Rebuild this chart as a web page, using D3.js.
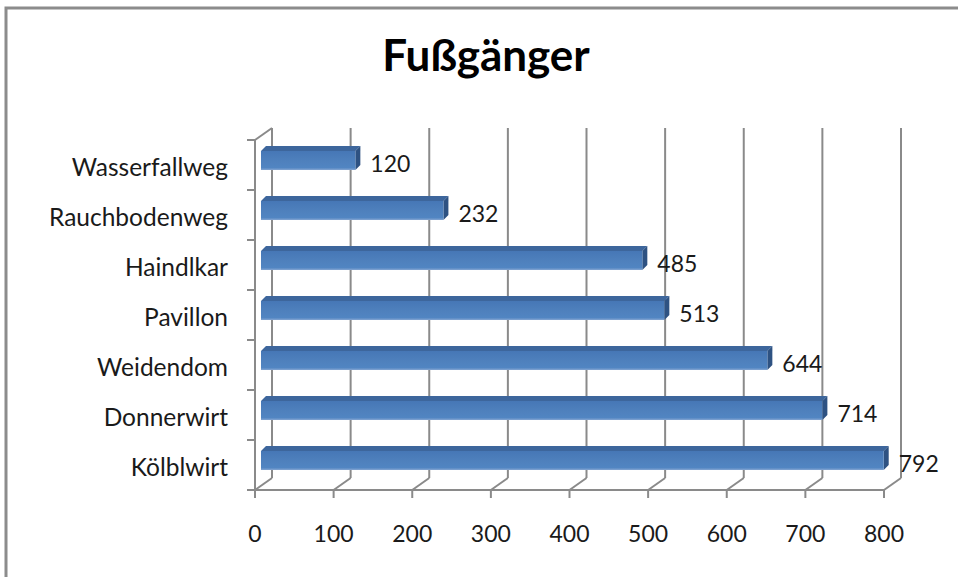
<!DOCTYPE html>
<html>
<head>
<meta charset="utf-8">
<script src="https://cdn.jsdelivr.net/npm/d3@7"></script>
<style>
  body { margin: 0; background: #fff; }
  svg { display: block; }
  text { font-family: Lato, "Open Sans", sans-serif; fill: #000; }
</style>
</head>
<body>
<div id="chart"></div>
<script>
// chart data (top to bottom as shown)
const categories = ["Wasserfallweg", "Rauchbodenweg", "Haindlkar", "Pavillon", "Weidendom", "Donnerwirt", "Kölblwirt"];
const values = [120, 232, 485, 513, 644, 714, 792];
const xTicks = [0, 100, 200, 300, 400, 500, 600, 700, 800];
const title = "Fußgänger";

const width = 958, height = 577;
const depth = { dx: 17, dy: -12 };   // floor / wall depth
const barDepth = { dx: 5, dy: -5 };  // 3d depth of one bar
const gridColor = "#8a8a8a";

const svg = d3.select("#chart").append("svg")
  .attr("width", width)
  .attr("height", height);

// outer frame of the chart area
svg.append("rect")
  .attr("x", 6).attr("y", 8)
  .attr("width", width + 20).attr("height", height + 20)
  .attr("fill", "#fff")
  .attr("stroke", "#8c8c8c")
  .attr("stroke-width", 3);

svg.append("text")
  .attr("x", 486).attr("y", 71)
  .attr("text-anchor", "middle")
  .style("font-weight", "bold")
  .style("font-size", "44px")
  .text(title);

// scales
const x = d3.scaleLinear().domain([0, 800]).range([255, 884]);
const xBar = d3.scaleLinear().domain([0, 800]).range([261, 890]);
const y = d3.scaleBand().domain(categories).range([140, 490]).paddingInner(0);

const grid = svg.append("g")
  .attr("stroke", gridColor)
  .attr("stroke-width", 2)
  .attr("fill", "none");

const plotTop = y.range()[0], plotBottom = y.range()[1];

// back wall vertical gridlines + floor diagonals + ticks
xTicks.forEach(t => {
  const fx = x(t);
  grid.append("line")
    .attr("x1", fx + depth.dx).attr("x2", fx + depth.dx)
    .attr("y1", plotTop + depth.dy).attr("y2", plotBottom + depth.dy);
  grid.append("line")
    .attr("x1", fx).attr("y1", plotBottom)
    .attr("x2", fx + depth.dx).attr("y2", plotBottom + depth.dy);
  grid.append("line")
    .attr("x1", fx).attr("x2", fx)
    .attr("y1", plotBottom).attr("y2", plotBottom + 8);
});

// front floor edge
grid.append("line")
  .attr("x1", x(0) - 8).attr("x2", x(800))
  .attr("y1", plotBottom).attr("y2", plotBottom);

// left wall front edge + top diagonal
grid.append("line")
  .attr("x1", x(0)).attr("x2", x(0))
  .attr("y1", plotTop).attr("y2", plotBottom);
grid.append("line")
  .attr("x1", x(0)).attr("y1", plotTop)
  .attr("x2", x(0) + depth.dx).attr("y2", plotTop + depth.dy);

// category tick marks
const bounds = categories.map(c => y(c)).concat([plotBottom]);
bounds.forEach(b => {
  grid.append("line")
    .attr("x1", x(0) - 8).attr("x2", x(0))
    .attr("y1", b).attr("y2", b);
});

// gradient for the bar front
const defs = svg.append("defs");
const grad = defs.append("linearGradient")
  .attr("id", "barFront")
  .attr("x1", 0).attr("y1", 0).attr("x2", 0).attr("y2", 1);
grad.append("stop").attr("offset", "0%").attr("stop-color", "#4677b6");
grad.append("stop").attr("offset", "55%").attr("stop-color", "#4f81bd");
grad.append("stop").attr("offset", "88%").attr("stop-color", "#5185c2");
grad.append("stop").attr("offset", "100%").attr("stop-color", "#86a6d2");

const barH = 19;
const barOff = 11;

const bars = svg.append("g").selectAll("g")
  .data(categories.map((c, i) => ({ name: c, value: values[i] })))
  .join("g");

// top face
bars.append("path")
  .attr("fill", "#3d669c")
  .attr("d", d => {
    const x0 = xBar(0), x1 = xBar(d.value), yt = y(d.name) + barOff;
    return `M${x0},${yt} L${x0 + barDepth.dx},${yt + barDepth.dy} L${x1 + barDepth.dx},${yt + barDepth.dy} L${x1},${yt} Z`;
  });

// side face
bars.append("path")
  .attr("fill", "#2e5282")
  .attr("d", d => {
    const x1 = xBar(d.value), yt = y(d.name) + barOff;
    return `M${x1},${yt} L${x1 + barDepth.dx},${yt + barDepth.dy} L${x1 + barDepth.dx},${yt + barH + barDepth.dy} L${x1},${yt + barH} Z`;
  });

// front face
bars.append("rect")
  .attr("x", xBar(0))
  .attr("y", d => y(d.name) + barOff)
  .attr("width", d => xBar(d.value) - xBar(0))
  .attr("height", barH)
  .attr("fill", "url(#barFront)");

// value labels
bars.append("text")
  .attr("x", d => xBar(d.value) + barDepth.dx + 10)
  .attr("y", d => y(d.name) + barOff + barH + 2)
  .style("font-size", "23px")
  .style("fill", "#1a1a1a")
  .text(d => d.value);

// category labels
svg.append("g").selectAll("text")
  .data(categories)
  .join("text")
  .attr("x", 228)
  .attr("y", d => y(d) + y.bandwidth() / 2 + 11)
  .attr("text-anchor", "end")
  .style("font-size", "24.5px")
  .style("fill", "#1a1a1a")
  .text(d => d);

// x tick labels
svg.append("g").selectAll("text")
  .data(xTicks)
  .join("text")
  .attr("x", d => x(d))
  .attr("y", 542)
  .attr("text-anchor", "middle")
  .style("font-size", "23px")
  .style("fill", "#1a1a1a")
  .text(d => d);
</script>
</body>
</html>
